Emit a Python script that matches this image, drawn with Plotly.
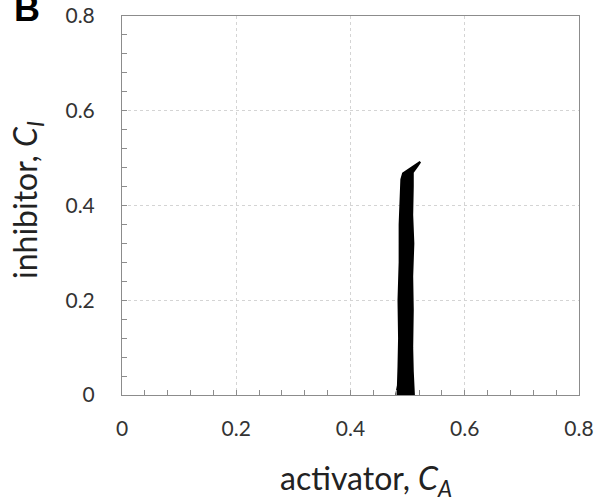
import plotly.graph_objects as go

# trajectory outline of the narrow loop (activator C_A, inhibitor C_I)
loop_ca = [0.480, 0.483, 0.484, 0.485, 0.484, 0.486, 0.486, 0.488, 0.489, 0.492,
           0.505, 0.516, 0.522, 0.517, 0.509,
           0.509, 0.508, 0.510, 0.508, 0.509, 0.508, 0.509, 0.510, 0.511, 0.480]
loop_ci = [0.000, 0.020, 0.060, 0.120, 0.200, 0.280, 0.360, 0.420, 0.455, 0.468,
           0.478, 0.488, 0.492, 0.483, 0.470,
           0.440, 0.380, 0.320, 0.250, 0.180, 0.100, 0.050, 0.010, 0.000, 0.000]

tick_vals = [0, 0.2, 0.4, 0.6, 0.8]
tick_text = ["0", "0.2", "0.4", "0.6", "0.8"]

W, H = 597, 504
L, R, T, B = 122, 18, 16, 109
PW, PH = W - L - R, H - T - B


def px_x(p):
    return (p - L) / PW


def px_y(p):
    return 1 - (p - T) / PH


fig = go.Figure()
fig.add_trace(go.Scatter(x=loop_ca, y=loop_ci, mode="lines", fill="toself",
                         fillcolor="black", line=dict(color="black", width=2),
                         hoverinfo="skip", showlegend=False))

font_fam = "Lato, Open Sans, sans-serif"
axis_common = dict(
    range=[0, 0.8], tickvals=tick_vals, ticktext=tick_text, automargin=False,
    showline=True, linecolor="#8c8c8c", linewidth=1, mirror=True,
    ticks="inside", ticklen=5, tickcolor="#8c8c8c",
    minor=dict(dtick=0.04, ticks="inside", ticklen=5, tickcolor="#8c8c8c", showgrid=False),
    showgrid=True, gridcolor="#d4d4d4", griddash="dot", gridwidth=1,
    zeroline=False, tickfont=dict(size=21, color="#333333", family=font_fam),
)
fig.update_xaxes(**axis_common, ticklabelstandoff=15)
fig.update_yaxes(**axis_common, ticklabelstandoff=22)

title_font = dict(size=32, color="#222222", family=font_fam)
fig.add_annotation(text="activator, <i>C</i><sub><i>A</i></sub>", xref="paper", yref="paper",
                   x=px_x(366), y=px_y(480), xanchor="center", yanchor="middle",
                   showarrow=False, font=title_font)
fig.add_annotation(text="inhibitor, <i>C</i><sub><i>I</i></sub>", xref="paper", yref="paper",
                   x=px_x(27), y=px_y(200), xanchor="center", yanchor="middle",
                   textangle=-90, showarrow=False, font=title_font)

# panel letter, cut at the top as in the source figure
fig.add_annotation(text="<b>B</b>", xref="paper", yref="paper",
                   x=px_x(12), y=px_y(31), xanchor="left", yanchor="bottom", showarrow=False,
                   font=dict(size=36, color="black", family="Liberation Sans, Arial"))

fig.update_layout(width=W, height=H, margin=dict(l=L, r=R, t=T, b=B),
                  plot_bgcolor="white", paper_bgcolor="white")

fig.write_html("out.html", config={"displayModeBar": False},
               post_script="document.body.style.margin='0';")
